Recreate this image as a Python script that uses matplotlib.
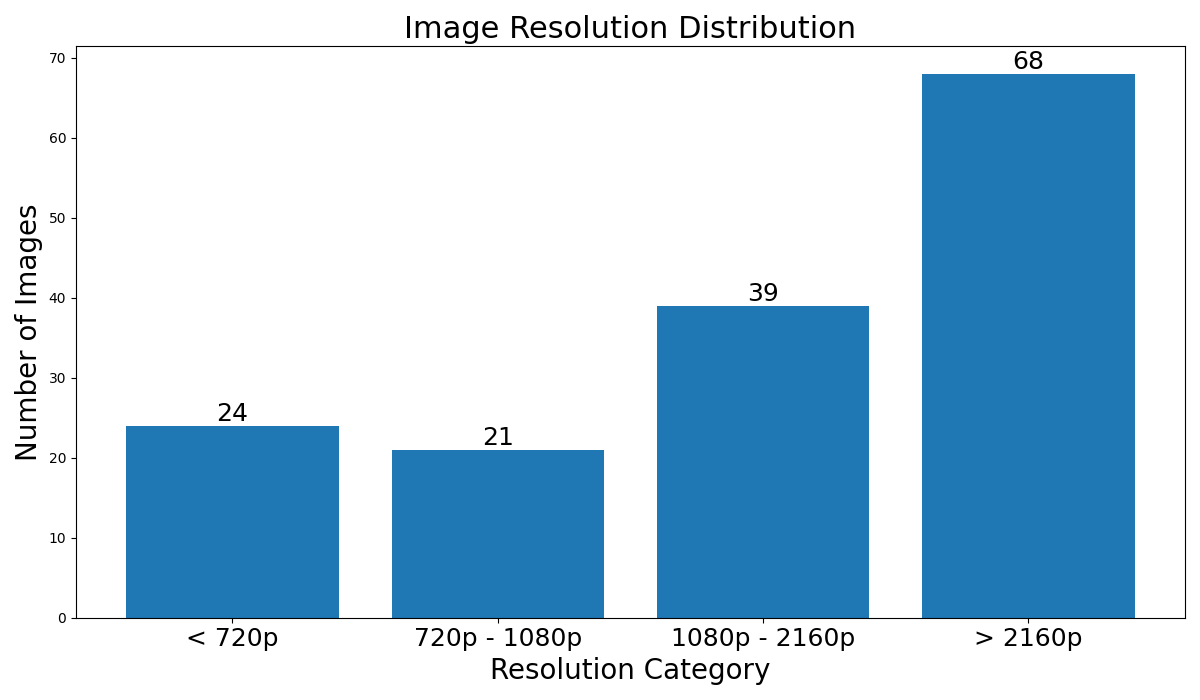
import matplotlib
matplotlib.use('Agg')
import matplotlib.pyplot as plt

categories = ['< 720p', '720p - 1080p', '1080p - 2160p', '> 2160p']
counts = [24, 21, 39, 68]

fig, ax = plt.subplots(figsize=(12, 7), dpi=100)
bars = ax.bar(categories, counts, color='#1f77b4')
ax.bar_label(bars, labels=[str(c) for c in counts], fontsize=18)
ax.set_title('Image Resolution Distribution', fontsize=22)
ax.set_xlabel('Resolution Category', fontsize=20)
ax.set_ylabel('Number of Images', fontsize=20)
ax.tick_params(axis='x', labelsize=18)
plt.tight_layout()
plt.savefig('out.png')
